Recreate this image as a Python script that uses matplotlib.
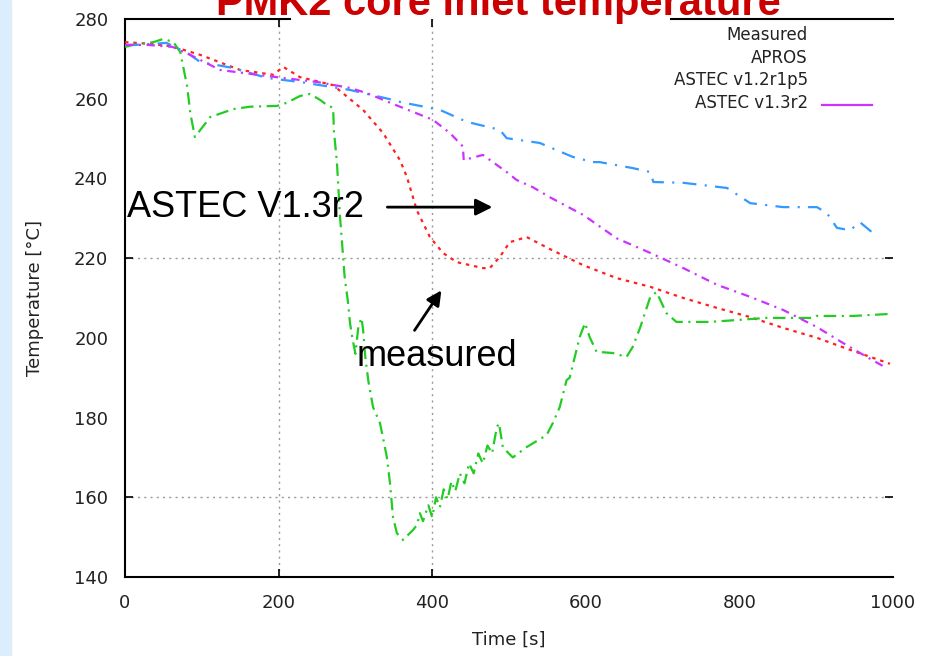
import matplotlib
matplotlib.use("Agg")
import matplotlib.pyplot as plt
from matplotlib.patches import Rectangle

plt.rcParams['lines.scale_dashes'] = False
plt.rcParams['font.family'] = ['DejaVu Sans']

# ---------------- data ----------------
meas_t = [0, 30, 60, 98, 150, 193, 206, 228, 271, 310, 336, 358, 367, 380, 397, 414,
          432, 466, 475, 488, 501, 523, 553, 597, 640, 684, 727, 771, 814, 857, 901, 944, 996]
meas_T = [274.2, 273.8, 273.2, 271, 267.2, 266, 268, 265.4, 263.4, 257.2, 251.4, 244.6,
          240.4, 232, 225.3, 221.3, 219, 217.5, 217.5, 220.3, 224, 225.3, 222.3, 218.2,
          215, 212.8, 210, 207.5, 205.2, 202.5, 200, 197, 193.5]

apros_t = [0, 11, 37, 50, 63, 72, 81, 85, 91, 111, 141, 163, 198, 211, 228, 241, 254,
           263, 271, 272, 276, 280, 286, 290, 293, 296, 300, 304, 308, 310, 313, 317,
           323, 332, 336, 341, 345, 349, 354, 362, 375, 380, 384, 388, 395, 400, 405,
           410, 415, 420, 425, 430, 436, 442, 448, 454, 460, 466, 472, 478, 484, 487,
           492, 505, 523, 549, 557, 566, 575, 579, 592, 599, 605, 614, 635, 653, 661,
           671, 684, 692, 705, 718, 762, 835, 896, 900, 948, 996]
apros_T = [273, 273.5, 274.2, 275, 274.2, 271.7, 263, 256.4, 250.4, 255.4, 257.4, 258,
           258.2, 259, 260.7, 261.2, 259.7, 258.4, 257.7, 252, 243.9, 230.3, 215.3,
           209.5, 203.7, 200, 196, 203, 205, 202, 195, 189, 182.6, 178.6, 174.9, 170,
           163.6, 155, 151, 149.3, 151.8, 153, 156, 154, 158, 155, 160, 157.5, 162,
           159.5, 164, 161.5, 166, 163.5, 168.5, 166, 171, 168.5, 173, 171, 177.5,
           178.6, 172.5, 170, 172.6, 175.6, 178.6, 182.6, 189.4, 190, 200.2, 203.7,
           200.2, 196.5, 196.2, 195.2, 197.7, 202.7, 210.3, 211.5, 206.2, 204, 204,
           205, 205, 205.5, 205.5, 206]

v12_t = [0, 13, 54, 81, 98, 141, 185, 206, 228, 293, 349, 358, 410, 445, 488, 497, 540,
         583, 609, 618, 661, 684, 688, 727, 784, 814, 857, 901, 914, 927, 944, 957, 979]
v12_T = [273.5, 273.5, 274, 271.5, 269.2, 267.7, 265.2, 264.7, 264.2, 262.2, 259.7,
         259.2, 257.2, 254.2, 252.2, 250.1, 248.9, 245.4, 244.1, 244.1, 242.6, 241.6,
         239.1, 238.9, 237.6, 233.8, 232.8, 232.8, 231.3, 227.6, 227, 229, 225.5]

v13_t = [0, 30, 62, 85, 124, 206, 250, 293, 315, 345, 358, 401, 423, 440, 441, 466,
         497, 510, 531, 553, 597, 640, 684, 727, 771, 814, 857, 901, 935, 966, 990]
v13_T = [273.5, 273.5, 273, 271, 267.2, 265.2, 264.2, 262.7, 261.4, 259, 258, 254.7,
         251.4, 248, 244.6, 245.9, 241.6, 239.6, 237.8, 235.3, 230.8, 225, 221.3,
         217.5, 213.3, 210.3, 207, 202.7, 198.7, 195.2, 192.6]

series_labels = ["Measured", "APROS", "ASTEC v1.2r1p5", "ASTEC v1.3r2"]
x_ticks = [0, 200, 400, 600, 800, 1000]
y_ticks = [140, 160, 180, 200, 220, 240, 260, 280]
x_grid = [200, 400]
y_grid = [160, 220]

# ---------------- figure ----------------
fig = plt.figure(figsize=(9.26, 6.56), dpi=100)
fig.patches.append(Rectangle((0, 0), 11 / 926, 1, transform=fig.transFigure,
                             color='#dcedfb', zorder=0))
ax = fig.add_axes([125 / 926, 1 - 577 / 656, 768 / 926, 558 / 656])
ax.xaxis.remove_overlapping_locs = False
ax.yaxis.remove_overlapping_locs = False

ax.plot(meas_t, meas_T, color='#ff2020', lw=1.6, ls=(0, (2.5, 3.5)), zorder=3)
ax.plot(apros_t, apros_T, color='#22cc22', lw=1.6, ls=(0, (9, 4, 1.5, 4)), zorder=3)
ax.plot(v12_t, v12_T, color='#3399ff', lw=1.6, ls=(0, (10, 6, 1.5, 6)), zorder=3)
ax.plot(v13_t, v13_T, color='#cc33ff', lw=1.6, ls=(0, (6, 4, 1.5, 4)), zorder=3)

ax.set_xlim(0, 1000)
ax.set_ylim(140, 280)
ax.set_xticks(x_ticks)
ax.set_yticks(y_ticks)
ax.set_xticks(x_grid, minor=True)
ax.set_yticks(y_grid, minor=True)
ax.tick_params(which='major', length=0, labelsize=13, pad=12, colors='#222222')
ax.tick_params(which='minor', direction='in', length=6, width=1.2,
               top=True, right=True, color='black')
ax.grid(which='minor', linestyle=(0, (1.5, 3)), color='#999999', lw=1.0)

for s in ['top', 'right']:
    ax.spines[s].set_visible(False)
for s in ['left', 'bottom']:
    ax.spines[s].set_linewidth(1.5)
# partial top border (interrupted by the title box)
ax.plot([0, 0.215], [1, 1], transform=ax.transAxes, color='black', lw=1.5, clip_on=False)
ax.plot([0.711, 1], [1, 1], transform=ax.transAxes, color='black', lw=1.5, clip_on=False)

ax.set_xlabel("Time [s]", fontsize=13, labelpad=14, color='#222222')
ax.set_ylabel("Temperature [°C]", fontsize=13, labelpad=22, color='#222222')

# legend (text only, right aligned)
leg_y = [0.971, 0.930, 0.891, 0.850]
for lab, yy in zip(series_labels, leg_y):
    ax.text(0.889, yy, lab, transform=ax.transAxes, ha='right', va='center',
            fontsize=12, color='#222222')
ax.plot([0.9076, 0.9727], [0.846, 0.846], transform=ax.transAxes,
        color='#cc33ff', lw=1.6)

# title
fig.text(498 / 926, 1 - 15 / 656, "PMK2 core inlet temperature",
         family='Liberation Sans', weight='bold', fontsize=30, color='#cc0000',
         ha='center', va='baseline')

# annotations
ax.text(2, 232.8, "ASTEC V1.3r2", family='Liberation Sans', fontsize=26,
        ha='left', va='center', color='black')
ax.annotate("", xy=(482, 232.8), xytext=(338, 232.8),
            arrowprops=dict(arrowstyle='-|>', color='black', lw=2,
                            mutation_scale=25))
ax.text(302, 195.2, "measured", family='Liberation Sans', fontsize=26,
        ha='left', va='center', color='black')
ax.annotate("", xy=(414, 212.5), xytext=(375, 201.3),
            arrowprops=dict(arrowstyle='-|>', color='black', lw=2,
                            mutation_scale=22))

fig.savefig("out.png", dpi=100)
